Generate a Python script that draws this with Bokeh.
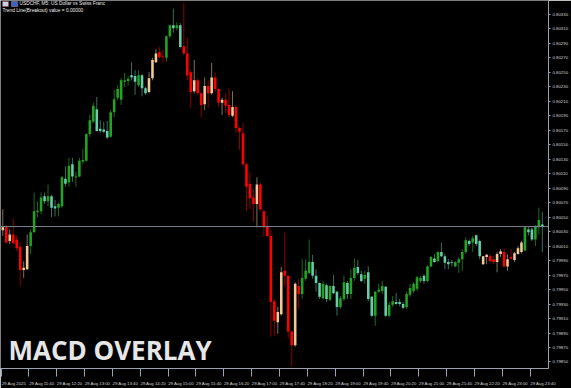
from bokeh.plotting import figure
from bokeh.models import (ColumnDataSource, Range1d, FixedTicker, PrintfTickFormatter,
                          Span, Label, BoxAnnotation, CustomJSTickFormatter)
from bokeh.embed import file_html
from bokeh.resources import INLINE

# ---------------- data (USDCHF M5, 29 Aug 2025, 11:00 - 23:55) ----------------
open_ = [
    0.80036, 0.80036, 0.80017, 0.80026, 0.80019, 0.80009, 0.79977, 0.79978, 0.80010, 0.80029,
    0.80057, 0.80058, 0.80079, 0.80072, 0.80079, 0.80065, 0.80063, 0.80065, 0.80103, 0.80098,
    0.80123, 0.80105, 0.80106, 0.80127, 0.80128, 0.80165, 0.80182, 0.80199, 0.80172, 0.80171,
    0.80169, 0.80161, 0.80195, 0.80215, 0.80212, 0.80237, 0.80238, 0.80246, 0.80245, 0.80232,
    0.80246, 0.80228, 0.80223, 0.80242, 0.80264, 0.80278, 0.80272, 0.80270, 0.80300, 0.80315,
    0.80311, 0.80315, 0.80286, 0.80276, 0.80250, 0.80224, 0.80239, 0.80221, 0.80206, 0.80231,
    0.80221, 0.80243, 0.80227, 0.80208, 0.80212, 0.80205, 0.80190, 0.80202, 0.80173, 0.80166,
    0.80123, 0.80096, 0.80077, 0.80068, 0.80095, 0.80058, 0.80037, 0.80024, 0.79934, 0.79905,
    0.79916, 0.79976, 0.79969, 0.79892, 0.79873, 0.79955, 0.79944, 0.79965, 0.79973, 0.79988,
    0.79969, 0.79959, 0.79938, 0.79956, 0.79936, 0.79955, 0.79947, 0.79926, 0.79937, 0.79959,
    0.79944, 0.79966, 0.79981, 0.79971, 0.79965, 0.79974, 0.79940, 0.79914, 0.79947, 0.79948,
    0.79954, 0.79914, 0.79929, 0.79933, 0.79933, 0.79930, 0.79926, 0.79943, 0.79948, 0.79951,
    0.79962, 0.79969, 0.79962, 0.79982, 0.79993, 0.79989, 0.80002, 0.79996, 0.79988, 0.79988,
    0.79982, 0.79987, 0.79992, 0.80002, 0.80017, 0.80015, 0.80025, 0.80017, 0.79996, 0.79995,
    0.79996, 0.79992, 0.79988, 0.79999, 0.80002, 0.79982, 0.79995, 0.79991, 0.79999, 0.80002,
    0.80004, 0.80033, 0.80033, 0.80019, 0.80036, 0.80040,
]
high = [
    0.80061, 0.80039, 0.80033, 0.80048, 0.80025, 0.80015, 0.79989, 0.80026, 0.80033, 0.80084,
    0.80072, 0.80084, 0.80084, 0.80095, 0.80081, 0.80074, 0.80070, 0.80107, 0.80120, 0.80132,
    0.80132, 0.80113, 0.80132, 0.80144, 0.80166, 0.80191, 0.80208, 0.80216, 0.80184, 0.80182,
    0.80183, 0.80198, 0.80226, 0.80232, 0.80242, 0.80249, 0.80245, 0.80264, 0.80253, 0.80253,
    0.80248, 0.80230, 0.80250, 0.80270, 0.80282, 0.80285, 0.80281, 0.80301, 0.80316, 0.80338,
    0.80319, 0.80318, 0.80346, 0.80298, 0.80253, 0.80267, 0.80242, 0.80223, 0.80243, 0.80239,
    0.80263, 0.80250, 0.80228, 0.80215, 0.80221, 0.80228, 0.80224, 0.80205, 0.80175, 0.80180,
    0.80125, 0.80112, 0.80088, 0.80105, 0.80098, 0.80061, 0.80051, 0.80033, 0.79937, 0.79926,
    0.79981, 0.80029, 0.79970, 0.79893, 0.79960, 0.79965, 0.79992, 0.79992, 0.80019, 0.79998,
    0.79978, 0.79960, 0.79962, 0.79958, 0.79956, 0.79970, 0.79948, 0.79941, 0.79969, 0.79962,
    0.79978, 0.79993, 0.79991, 0.79976, 0.79976, 0.79982, 0.79941, 0.79948, 0.79958, 0.79962,
    0.79955, 0.79933, 0.79941, 0.79945, 0.79937, 0.79933, 0.79947, 0.79958, 0.79960, 0.79969,
    0.79969, 0.79971, 0.79984, 0.79996, 0.79999, 0.80003, 0.80015, 0.79999, 0.79992, 0.79991,
    0.79989, 0.79995, 0.80006, 0.80022, 0.80019, 0.80024, 0.80026, 0.80019, 0.79996, 0.79999,
    0.79999, 0.79996, 0.80002, 0.80006, 0.80007, 0.79999, 0.80006, 0.80002, 0.80010, 0.80017,
    0.80037, 0.80037, 0.80036, 0.80039, 0.80063, 0.80057,
]
low = [
    0.80024, 0.80013, 0.80013, 0.80013, 0.80003, 0.79955, 0.79966, 0.79977, 0.79999, 0.80029,
    0.80050, 0.80054, 0.80068, 0.80065, 0.80050, 0.80051, 0.80051, 0.80063, 0.80092, 0.80092,
    0.80099, 0.80092, 0.80105, 0.80123, 0.80127, 0.80161, 0.80180, 0.80168, 0.80166, 0.80166,
    0.80158, 0.80160, 0.80188, 0.80212, 0.80205, 0.80230, 0.80232, 0.80239, 0.80219, 0.80230,
    0.80217, 0.80219, 0.80221, 0.80239, 0.80263, 0.80270, 0.80264, 0.80265, 0.80297, 0.80305,
    0.80308, 0.80283, 0.80274, 0.80239, 0.80201, 0.80221, 0.80219, 0.80188, 0.80198, 0.80201,
    0.80219, 0.80223, 0.80202, 0.80191, 0.80194, 0.80188, 0.80188, 0.80166, 0.80143, 0.80120,
    0.80058, 0.80061, 0.80044, 0.80036, 0.80058, 0.80024, 0.80022, 0.79885, 0.79886, 0.79889,
    0.79914, 0.79955, 0.79882, 0.79844, 0.79871, 0.79923, 0.79937, 0.79962, 0.79971, 0.79965,
    0.79947, 0.79937, 0.79936, 0.79933, 0.79934, 0.79944, 0.79914, 0.79923, 0.79934, 0.79937,
    0.79937, 0.79962, 0.79970, 0.79960, 0.79958, 0.79934, 0.79912, 0.79900, 0.79945, 0.79944,
    0.79912, 0.79912, 0.79926, 0.79929, 0.79927, 0.79923, 0.79923, 0.79940, 0.79945, 0.79948,
    0.79959, 0.79958, 0.79960, 0.79981, 0.79987, 0.79988, 0.79995, 0.79978, 0.79978, 0.79982,
    0.79981, 0.79973, 0.79976, 0.79999, 0.80010, 0.80002, 0.80010, 0.79992, 0.79984, 0.79985,
    0.79988, 0.79985, 0.79974, 0.79995, 0.79981, 0.79976, 0.79991, 0.79988, 0.79998, 0.80000,
    0.80003, 0.80025, 0.80017, 0.80010, 0.80026, 0.80002,
]
close = [
    0.80032, 0.80015, 0.80026, 0.80014, 0.80007, 0.79977, 0.79980, 0.80010, 0.80029, 0.80058,
    0.80059, 0.80077, 0.80072, 0.80079, 0.80063, 0.80062, 0.80068, 0.80105, 0.80096, 0.80121,
    0.80106, 0.80106, 0.80128, 0.80129, 0.80165, 0.80184, 0.80204, 0.80169, 0.80169, 0.80168,
    0.80160, 0.80195, 0.80213, 0.80227, 0.80239, 0.80239, 0.80241, 0.80243, 0.80237, 0.80246,
    0.80228, 0.80221, 0.80242, 0.80267, 0.80276, 0.80271, 0.80271, 0.80300, 0.80315, 0.80311,
    0.80315, 0.80285, 0.80276, 0.80246, 0.80223, 0.80239, 0.80221, 0.80205, 0.80231, 0.80221,
    0.80243, 0.80227, 0.80208, 0.80212, 0.80204, 0.80191, 0.80202, 0.80173, 0.80168, 0.80123,
    0.80092, 0.80076, 0.80068, 0.80095, 0.80061, 0.80036, 0.80024, 0.79933, 0.79907, 0.79919,
    0.79974, 0.79969, 0.79892, 0.79873, 0.79958, 0.79944, 0.79966, 0.79976, 0.79988, 0.79969,
    0.79959, 0.79940, 0.79958, 0.79937, 0.79955, 0.79945, 0.79926, 0.79938, 0.79960, 0.79944,
    0.79966, 0.79980, 0.79973, 0.79962, 0.79970, 0.79937, 0.79914, 0.79947, 0.79950, 0.79955,
    0.79914, 0.79929, 0.79934, 0.79930, 0.79930, 0.79925, 0.79944, 0.79952, 0.79958, 0.79967,
    0.79966, 0.79962, 0.79982, 0.79995, 0.79988, 0.80002, 0.79996, 0.79987, 0.79985, 0.79987,
    0.79988, 0.79992, 0.80002, 0.80018, 0.80013, 0.80021, 0.80013, 0.79996, 0.79985, 0.79998,
    0.79989, 0.79988, 0.79999, 0.80003, 0.79982, 0.79992, 0.79993, 0.80000, 0.80007, 0.80015,
    0.80036, 0.80029, 0.80019, 0.80037, 0.80046, 0.80037,
]
# MACD overlay state per bar: g = green, a = aquamarine, r = red, t = tan
macd_state = list(
    "trtrrrttgg" "ggagaaggag" "aggggggaaa" "aggggggaag" "aatttrrgga"
    "garrrtrrtr" "trrtrrtrrr" "rrrtrrrrrt" "trrrtrggga" "aagagaagga"
    "ggaagaaggg" "aggaaagggg" "gaggagaaaa" "ggggagaatt" "rrttrtrttt"
    "gaagga"
)
price_ticks = [0.79850, 0.79870, 0.79890, 0.79910, 0.79930, 0.79950, 0.79970, 0.79990,
               0.80010, 0.80030, 0.80050, 0.80070, 0.80090, 0.80110, 0.80130, 0.80150,
               0.80170, 0.80190, 0.80210, 0.80230, 0.80250, 0.80270, 0.80290, 0.80310,
               0.80330]
time_tick_bars = [0, 8, 16, 24, 32, 40, 48, 56, 64, 72, 80, 88, 96, 104, 112, 120,
                  128, 136, 144, 152]
time_labels = ["29 Aug 2025", "29 Aug 11:40", "29 Aug 12:20", "29 Aug 13:00",
               "29 Aug 13:40", "29 Aug 14:20", "29 Aug 15:00", "29 Aug 15:40",
               "29 Aug 16:20", "29 Aug 17:00", "29 Aug 17:40", "29 Aug 18:20",
               "29 Aug 19:00", "29 Aug 19:40", "29 Aug 20:20", "29 Aug 21:00",
               "29 Aug 21:40", "29 Aug 22:20", "29 Aug 23:00", "29 Aug 23:40"]
last_price = 0.80037
header_1 = "USDCHF, M5:  US Dollar vs Swiss Franc"
header_2 = "Trend Line(Breakout) value = 0.00000"
title = "MACD OVERLAY"

# ---------------- styles ----------------
body_colors = {"g": "#22a322", "a": "#66cdaa", "r": "#ff0000", "t": "#f2c894"}
wick_colors = {"g": "#1b6b1b", "a": "#35705f", "r": "#8a0000", "t": "#7d7060"}
axis_col = "#9aa2ae"
lab_col = "#d4d4d4"
lab_font = "Liberation Sans"

n = len(open_)
src = ColumnDataSource(dict(
    x=list(range(n)),
    high=high, low=low,
    top=[max(o, c) for o, c in zip(open_, close)],
    bottom=[min(o, c) for o, c in zip(open_, close)],
    body=[body_colors[s] for s in macd_state],
    wick=[wick_colors[s] for s in macd_state],
))

p = figure(width=571, height=388,
           x_range=Range1d(-0.657, 156.77), y_range=Range1d(0.79841, 0.803492),
           y_axis_location="right", toolbar_location=None, output_backend="svg",
           background_fill_color="black", border_fill_color="black",
           min_border_left=0, min_border_top=0, min_border_right=20, min_border_bottom=18)
p.grid.visible = False
p.outline_line_color = None

p.segment(x0="x", y0="low", x1="x", y1="high", line_color="wick", line_width=1, source=src)
p.vbar(x="x", width=0.74, top="top", bottom="bottom", fill_color="body",
       line_color=None, source=src)

p.add_layout(Span(location=last_price, dimension="width", line_color="#7d8590", line_width=1))

# right price axis
ya = p.yaxis[0]
ya.ticker = FixedTicker(ticks=price_ticks)
ya.formatter = PrintfTickFormatter(format="%.5f")
ya.axis_line_color = axis_col
ya.major_tick_line_color = axis_col
ya.major_tick_out = 2
ya.major_tick_in = 0
ya.minor_tick_out = 0
ya.minor_tick_in = 0
ya.major_label_standoff = 2
ya.major_label_text_font_size = "4.3px"
ya.major_label_text_color = lab_col
ya.major_label_text_font = lab_font

# bottom time axis: labels sit right of their tick marks
xa = p.xaxis[0]
xa.ticker = FixedTicker(ticks=[b + 3.2 for b in time_tick_bars],
                        minor_ticks=[b - 0.5 for b in time_tick_bars])
xa.formatter = CustomJSTickFormatter(args=dict(labels=time_labels),
                                     code="return labels[index] || ''")
xa.axis_line_color = axis_col
xa.major_tick_out = 0
xa.major_tick_in = 0
xa.minor_tick_line_color = axis_col
xa.minor_tick_out = 8
xa.minor_tick_in = 0
xa.major_label_standoff = 4
xa.major_label_text_font_size = "4.3px"
xa.major_label_text_color = lab_col
xa.major_label_text_font = lab_font

# current price box on the axis
p.add_layout(Label(x=552, x_units="screen", y=last_price, y_units="data",
                   text=f"{last_price:.5f}", text_font_size="4.3px", text_font=lab_font,
                   text_color="#101010", text_baseline="middle",
                   background_fill_color="#b4bccb"))

# header
p.add_layout(BoxAnnotation(left=2, right=8, bottom=362, top=367,
                           left_units="screen", right_units="screen",
                           top_units="screen", bottom_units="screen",
                           fill_color="#c9d0e6", fill_alpha=1, line_color="#d04040", line_width=1))
p.add_layout(BoxAnnotation(left=11, right=17, bottom=362, top=367,
                           left_units="screen", right_units="screen",
                           top_units="screen", bottom_units="screen",
                           fill_color="#3f5fc0", fill_alpha=1, line_color="#e0e0f0", line_width=1))
p.add_layout(Label(x=19, y=365, x_units="screen", y_units="screen", text=header_1,
                   text_font_size="4.8px", text_font=lab_font, text_color="#ececec",
                   text_baseline="middle"))
p.add_layout(Label(x=2, y=358, x_units="screen", y_units="screen", text=header_2,
                   text_font_size="4.8px", text_font=lab_font, text_color="#ececec",
                   text_baseline="middle"))

# big caption
p.add_layout(Label(x=8, y=19, x_units="screen", y_units="screen", text=title,
                   text_font_size="26px", text_font="Open Sans", text_font_style="bold",
                   text_color="#e6e6e6", text_baseline="alphabetic"))

open("out.html", "w").write(file_html(p, INLINE))
